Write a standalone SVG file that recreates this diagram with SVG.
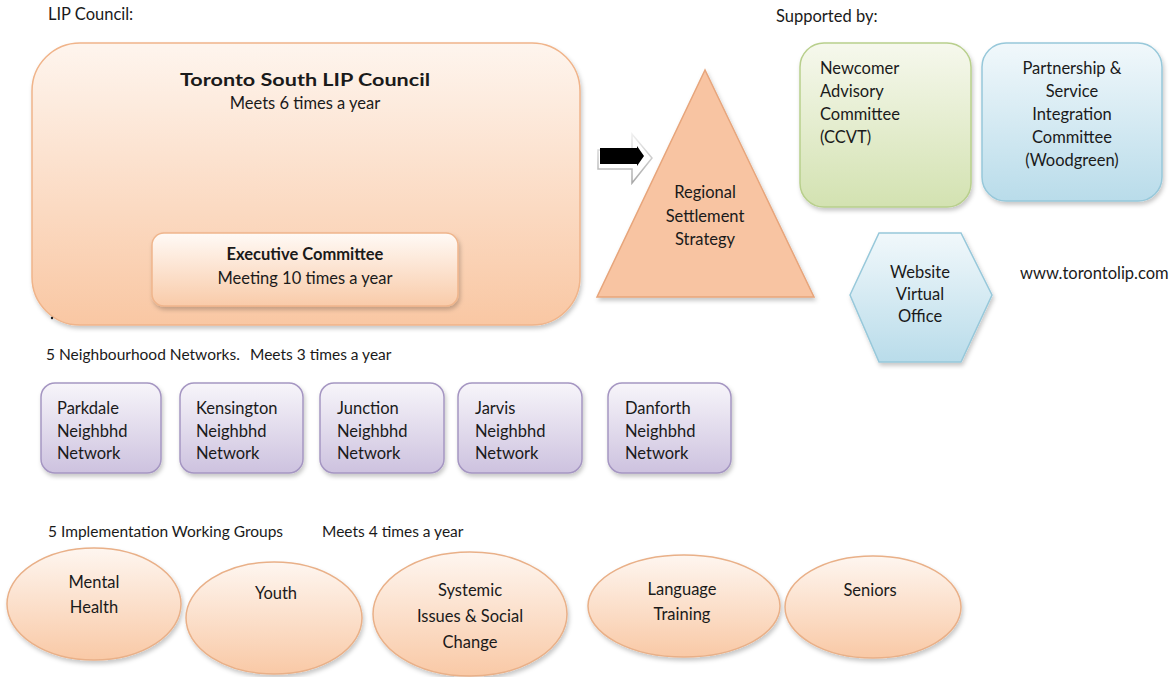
<svg xmlns="http://www.w3.org/2000/svg" width="1176" height="677" viewBox="0 0 1176 677">
<defs>
<linearGradient id="gOrange" x1="0" y1="0" x2="0" y2="1"><stop offset="0" stop-color="#fef5ee"/><stop offset="1" stop-color="#f9c7a3"/></linearGradient>
<linearGradient id="gExec" x1="0" y1="0" x2="0" y2="1"><stop offset="0" stop-color="#fffaf6"/><stop offset="1" stop-color="#f9cba9"/></linearGradient>
<linearGradient id="gGreen" x1="0" y1="0" x2="0" y2="1"><stop offset="0" stop-color="#f6f8ed"/><stop offset="1" stop-color="#d3e2b1"/></linearGradient>
<linearGradient id="gBlue" x1="0" y1="0" x2="0" y2="1"><stop offset="0" stop-color="#f1f8fb"/><stop offset="1" stop-color="#b9dcea"/></linearGradient>
<linearGradient id="gPurple" x1="0" y1="0" x2="0" y2="1"><stop offset="0" stop-color="#f7f5fa"/><stop offset="1" stop-color="#cdc2df"/></linearGradient>
<linearGradient id="gEll" x1="0" y1="0" x2="0" y2="1"><stop offset="0" stop-color="#fef6f0"/><stop offset="1" stop-color="#f9c9a6"/></linearGradient>
<linearGradient id="gArrowStroke" x1="0" y1="0" x2="0" y2="1"><stop offset="0" stop-color="#f0f0f0"/><stop offset="1" stop-color="#a8a8a8"/></linearGradient>
<filter id="sh" x="-10%" y="-10%" width="125%" height="130%"><feDropShadow dx="1.5" dy="3" stdDeviation="2" flood-color="#000" flood-opacity="0.22"/></filter>
<style>
text{font-family:Lato,"Liberation Sans",sans-serif;fill:#1a1a1a;font-size:16.5px}
.lbl{font-size:15.5px}
.top{font-size:16.5px}
.c{text-anchor:middle}
.b{font-weight:bold}
.orange{fill:url(#gOrange);stroke:#f0b48a;stroke-width:1.5;filter:url(#sh)}
.exec{fill:url(#gExec);stroke:#efb58c;stroke-width:1.5;filter:url(#sh)}
.green{fill:url(#gGreen);stroke:#b8cf8c;stroke-width:1.5;filter:url(#sh)}
.blue{fill:url(#gBlue);stroke:#97c8da;stroke-width:1.5;filter:url(#sh)}
.purple{fill:url(#gPurple);stroke:#a596c2;stroke-width:1.5;filter:url(#sh)}
.ell{fill:url(#gEll);stroke:#e9b088;stroke-width:1.5;filter:url(#sh)}
.tri{fill:#f8c4a2;stroke:#e7a57b;stroke-width:1.5;filter:url(#sh)}
</style>
</defs>
<rect width="1176" height="677" fill="#ffffff"/>

<text class="top" x="48" y="20">LIP Council:</text>
<text class="top" x="776" y="22">Supported by:</text>
<text class="lbl" x="46" y="360">5 Neighbourhood Networks.</text>
<text class="lbl" x="250" y="360">Meets 3 times a year</text>
<text class="lbl" x="48" y="537">5 Implementation Working Groups</text>
<text class="lbl" x="322" y="537">Meets 4 times a year</text>
<text x="1020" y="279" font-size="17">www.torontolip.com</text>

<g id="council">
<rect class="orange" x="32" y="43" width="548" height="282" rx="48"/>
<text class="c b" x="305" y="86" font-size="22" textLength="250" lengthAdjust="spacingAndGlyphs">Toronto South LIP Council</text>
<text class="c" x="305" y="109">Meets 6 times a year</text>
<circle cx="52" cy="318" r="1.2" fill="#222"/>
</g>
<g id="exec">
<rect class="exec" x="152" y="233" width="306" height="73" rx="12"/>
<text class="c b" x="305" y="260" font-size="17">Executive Committee</text>
<text class="c" x="305" y="284" font-size="17">Meeting 10 times a year</text>
</g>

<g id="connectors">
<polygon points="598,150 632,150 632,134 652,158 632,183 632,169 598,169" fill="#ffffff" stroke="url(#gArrowStroke)" stroke-width="1.5"/>
<polygon points="600,148 637,148 637,146 644,156 637,166 637,164 600,164" fill="#000000"/>
</g>

<g id="strategy">
<polygon class="tri" points="705,70 597,297 814,297"/>
<text class="c" x="705" y="198">Regional</text>
<text class="c" x="705" y="222">Settlement</text>
<text class="c" x="705" y="245">Strategy</text>
</g>

<g id="newcomer">
<rect class="green" x="800" y="43" width="171" height="164" rx="24"/>
<text x="820" y="74">Newcomer</text>
<text x="820" y="97">Advisory</text>
<text x="820" y="120">Committee</text>
<text x="820" y="143">(CCVT)</text>
</g>

<g id="partnership">
<rect class="blue" x="982" y="43" width="180" height="158" rx="24"/>
<text class="c" x="1072" y="74">Partnership &amp;</text>
<text class="c" x="1072" y="97">Service</text>
<text class="c" x="1072" y="120">Integration</text>
<text class="c" x="1072" y="143">Committee</text>
<text class="c" x="1072" y="166">(Woodgreen)</text>
</g>

<g id="website">
<polygon class="blue" points="850,295 879,233 961,233 992,295 961,362 879,362"/>
<text class="c" x="920" y="278">Website</text>
<text class="c" x="920" y="300">Virtual</text>
<text class="c" x="920" y="322">Office</text>
</g>

<g id="parkdale">
<rect class="purple" x="41" y="383" width="120" height="90" rx="14"/>
<text x="57" y="414">Parkdale</text><text x="57" y="437">Neighbhd</text><text x="57" y="459">Network</text>
</g>
<g id="kensington">
<rect class="purple" x="180" y="383" width="123" height="90" rx="14"/>
<text x="196" y="414">Kensington</text><text x="196" y="437">Neighbhd</text><text x="196" y="459">Network</text>
</g>
<g id="junction">
<rect class="purple" x="320" y="383" width="124" height="90" rx="14"/>
<text x="337" y="414">Junction</text><text x="337" y="437">Neighbhd</text><text x="337" y="459">Network</text>
</g>
<g id="jarvis">
<rect class="purple" x="458" y="383" width="124" height="90" rx="14"/>
<text x="475" y="414">Jarvis</text><text x="475" y="437">Neighbhd</text><text x="475" y="459">Network</text>
</g>
<g id="danforth">
<rect class="purple" x="608" y="383" width="123" height="90" rx="14"/>
<text x="625" y="414">Danforth</text><text x="625" y="437">Neighbhd</text><text x="625" y="459">Network</text>
</g>

<g id="mental">
<ellipse class="ell" cx="94" cy="604" rx="87" ry="56"/>
<text class="c" x="94" y="588">Mental</text>
<text class="c" x="94" y="613">Health</text>
</g>
<g id="youth">
<ellipse class="ell" cx="274" cy="618" rx="88" ry="56"/>
<text class="c" x="276" y="599">Youth</text>
</g>
<g id="systemic">
<ellipse class="ell" cx="470" cy="614" rx="97" ry="62"/>
<text class="c" x="470" y="596">Systemic</text>
<text class="c" x="470" y="622">Issues &amp; Social</text>
<text class="c" x="470" y="648">Change</text>
</g>
<g id="language">
<ellipse class="ell" cx="684" cy="606" rx="96" ry="51"/>
<text class="c" x="682" y="595">Language</text>
<text class="c" x="682" y="620">Training</text>
</g>
<g id="seniors">
<ellipse class="ell" cx="873" cy="607" rx="88" ry="51"/>
<text class="c" x="870" y="596">Seniors</text>
</g>
</svg>
